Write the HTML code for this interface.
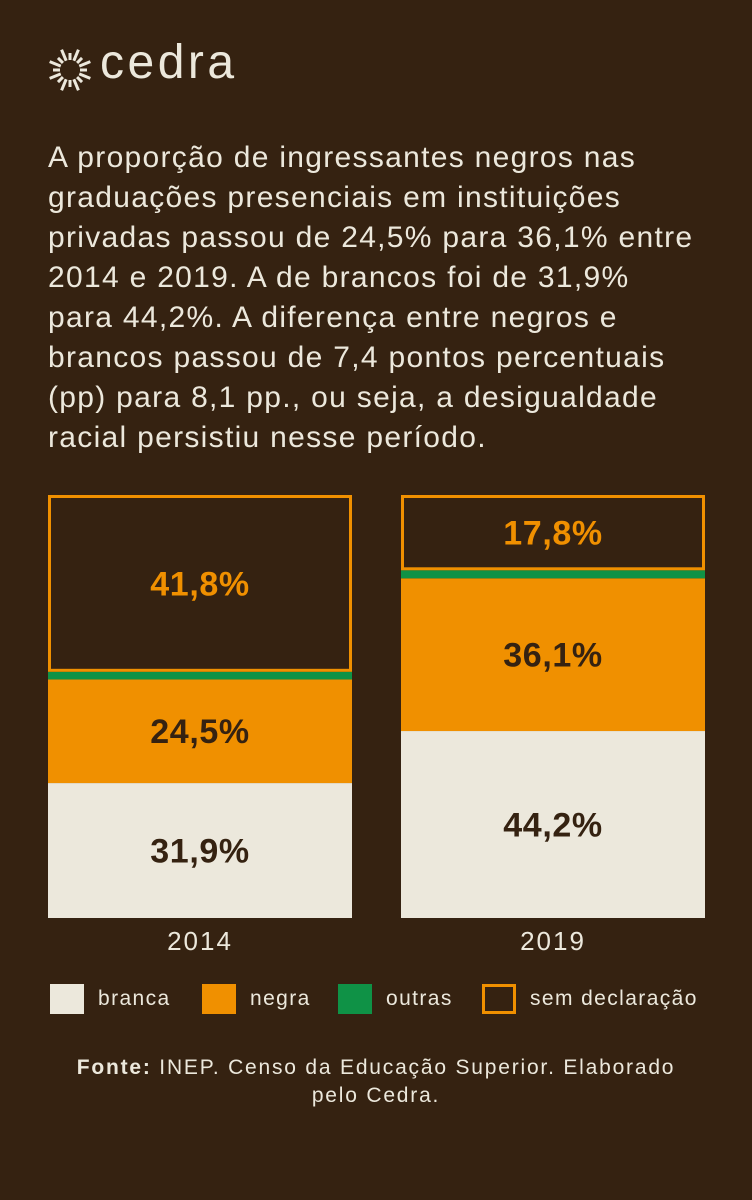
<!DOCTYPE html>
<html><head><meta charset="utf-8"><style>
body{margin:0;width:752px;height:1200px;background:#352211;font-family:"Liberation Sans","DejaVu Sans",sans-serif;color:#ece8dc;overflow:hidden;position:relative}
.intro{position:absolute;left:48px;top:138px;width:700px;font-size:30px;line-height:40px;letter-spacing:1.3px;white-space:nowrap}
.logo{position:absolute;left:100px;top:35px;font-size:48px;letter-spacing:3.5px}
.leg{position:absolute;top:984px;height:30px;display:flex;align-items:center;font-size:21px;letter-spacing:1.4px}
.sw{width:34px;height:30px;margin-right:14px;box-sizing:border-box}
.src{position:absolute;left:0;width:752px;top:1054px;text-align:center;font-size:21px;line-height:28px;letter-spacing:1.8px}
</style></head><body>
<svg style="position:absolute;left:46px;top:46px" width="48" height="48" viewBox="-24 -24 48 48">
<g stroke="#ece8dc" stroke-width="3" id="rays"></g></svg>
<div class="logo">cedra</div>
<div class="intro">A proporção de ingressantes negros nas<br>graduações presenciais em instituições<br>privadas passou de 24,5% para 36,1% entre<br>2014 e 2019. A de brancos foi de 31,9%<br>para 44,2%. A diferença entre negros e<br>brancos passou de 7,4 pontos percentuais<br>(pp) para 8,1 pp., ou seja, a desigualdade<br>racial persistiu nesse período.</div>
<svg id="chart" width="752" height="970" style="position:absolute;left:0;top:0"></svg>
<div class="leg" style="left:50px"><div class="sw" style="background:#ece8dc"></div>branca</div>
<div class="leg" style="left:202px"><div class="sw" style="background:#f09000"></div>negra</div>
<div class="leg" style="left:338px"><div class="sw" style="background:#0f9246"></div>outras</div>
<div class="leg" style="left:482px"><div class="sw" style="border:3px solid #f09000"></div>sem declaração</div>
<div class="src"><b>Fonte:</b> INEP. Censo da Educação Superior. Elaborado<br>pelo Cedra.</div>
<script>
const years=["2014","2019"];
const branca=[31.9,44.2];
const negra=[24.5,36.1];
const outras=[1.8,1.9];
const semDecl=[41.8,17.8];
const NS="http://www.w3.org/2000/svg";
const svg=document.getElementById('chart');
const top0=495,bot=918,H=bot-top0;
const xs=[48,401],bw=304;
function y(v){return bot-v/100*H;}
function el(t,a){const e=document.createElementNS(NS,t);for(const k in a)e.setAttribute(k,a[k]);svg.appendChild(e);return e;}
years.forEach((yr,i)=>{
  const x=xs[i];let cum=0;
  const segs=[["branca",branca[i],"#ece8dc","#352211"],["negra",negra[i],"#f09000","#352211"],["outras",outras[i],"#0f9246",null],["sem-declaracao",semDecl[i],"none","#f09000"]];
  segs.forEach(s=>{
    const y1=y(cum+s[1]),y0=y(cum);
    let r;
    if(s[0]==="sem-declaracao"){r=el('rect',{x:x+1.5,y:y1+1.5,width:bw-3,height:y0-y1-3,fill:"none",stroke:"#f09000","stroke-width":3});}
    else r=el('rect',{x:x,y:y1,width:bw,height:y0-y1,fill:s[2]});
    
    
    if(s[3]){const t=el('text',{x:x+bw/2,y:(y0+y1)/2+12,"text-anchor":"middle","font-size":34,"font-weight":"bold","letter-spacing":0.6,fill:s[3],"font-family":"Liberation Sans, sans-serif"});
      t.textContent=s[1].toFixed(1).replace('.',',')+'%';
      
      }
    cum+=s[1];
  });
  const t=el('text',{x:x+bw/2,y:950,"text-anchor":"middle","font-size":26,"letter-spacing":2,fill:"#ece8dc","font-family":"Liberation Sans, sans-serif"});
  t.textContent=yr;
  
  
});
const g=document.getElementById('rays');
for(let k=0;k<16;k++){const a=k*Math.PI/8;const l=document.createElementNS(NS,'line');
l.setAttribute('x1',Math.cos(a)*10);l.setAttribute('y1',Math.sin(a)*10);
l.setAttribute('x2',Math.cos(a)*(k%2?22:17));l.setAttribute('y2',Math.sin(a)*(k%2?22:17));g.appendChild(l);}
</script>
</body></html>
